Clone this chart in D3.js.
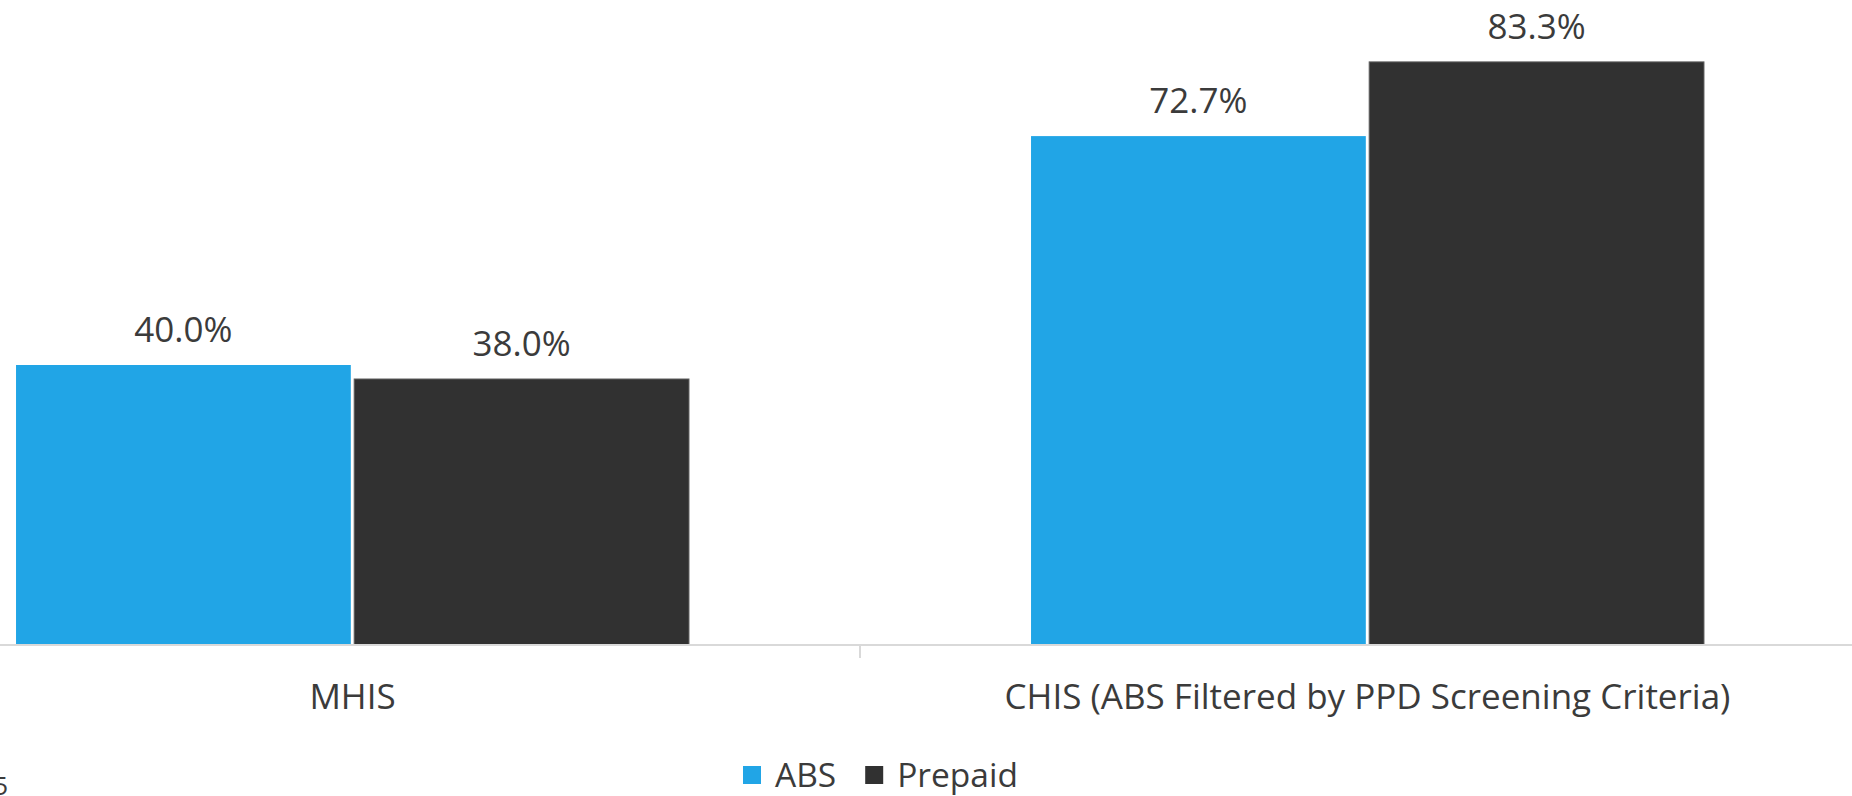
<!DOCTYPE html>
<html>
<head>
<meta charset="utf-8">
<script src="https://cdn.jsdelivr.net/npm/d3@7"></script>
<style>
  html, body { margin: 0; padding: 0; background: #ffffff; overflow: hidden; }
  svg { display: block; font-family: "Open Sans", "Noto Sans", sans-serif; }
</style>
</head>
<body>
<svg id="chart" width="1852" height="796"></svg>
<script>
// Survey comparison: share of respondents by sampling frame
const categories = ["MHIS", "CHIS (ABS Filtered by PPD Screening Criteria)"];
const seriesNames = ["ABS", "Prepaid"];
const absValues = [0.400, 0.727];
const prepaidValues = [0.380, 0.833];
const seriesColors = ["#21a5e6", "#313131"];

const W = 1852, H = 796;
const svg = d3.select("#chart");

// Plot area extends past the visible frame on both sides
const plot = { left: -155, right: 1875, top: 15, bottom: 645 };

const x0 = d3.scaleBand().domain(categories).range([plot.left, plot.right]).padding(0);
const groupW = x0.bandwidth() * 0.663;
const x1 = d3.scaleBand().domain(seriesNames).range([0, groupW]).paddingInner(0.01);
const y = d3.scaleLinear().domain([0, 0.9]).range([plot.bottom, plot.top]);

const rows = categories.map((c, i) => ({
  category: c,
  values: [
    { series: "ABS", value: absValues[i] },
    { series: "Prepaid", value: prepaidValues[i] }
  ]
}));
const color = d3.scaleOrdinal().domain(seriesNames).range(seriesColors);
const fmt = d3.format(".1%");

// Bars
const groups = svg.append("g").selectAll("g")
  .data(rows).join("g")
  .attr("transform", d => `translate(${x0(d.category) + (x0.bandwidth() - groupW) / 2},0)`);

groups.selectAll("rect")
  .data(d => d.values).join("rect")
  .attr("x", d => x1(d.series))
  .attr("y", d => y(d.value))
  .attr("width", x1.bandwidth())
  .attr("height", d => y(0) - y(d.value))
  .attr("fill", d => color(d.series))
  .attr("stroke", d => d.series === "Prepaid" ? "#5e5e5e" : "none")
  .attr("stroke-width", 1);

// Value labels
groups.selectAll("text")
  .data(d => d.values).join("text")
  .attr("x", d => x1(d.series) + x1.bandwidth() / 2)
  .attr("y", d => y(d.value) - 23)
  .attr("text-anchor", "middle")
  .attr("font-size", 35)
  .attr("fill", "#3b3b3b")
  .text(d => fmt(d.value));

// Category axis
const xAxis = svg.append("g").attr("transform", `translate(0,${plot.bottom})`)
  .call(d3.axisBottom(x0).tickSize(0).tickPadding(0));
xAxis.select(".domain").attr("stroke", "#d9d9d9").attr("stroke-width", 2)
  .attr("d", `M${plot.left},0H${plot.right}`);
xAxis.selectAll(".tick text")
  .attr("y", 64)
  .attr("dy", 0)
  .attr("font-size", 35)
  .attr("font-family", "\"Open Sans\", \"Noto Sans\", sans-serif")
  .attr("fill", "#3b3b3b");
xAxis.selectAll(".tick line").remove();

// Separator ticks between categories
const bounds = categories.slice(1).map(c => x0(c));
xAxis.selectAll("line.sep")
  .data(bounds).join("line")
  .attr("class", "sep")
  .attr("x1", d => d).attr("x2", d => d)
  .attr("y1", 0).attr("y2", 13)
  .attr("stroke", "#d9d9d9").attr("stroke-width", 2);

// Legend
const legend = svg.append("g").attr("transform", "translate(743,0)");
let cursor = 0;
seriesNames.forEach((name, i) => {
  const item = legend.append("g").attr("transform", `translate(${cursor},0)`);
  item.append("rect")
    .attr("x", 0).attr("y", 766)
    .attr("width", 18).attr("height", 18)
    .attr("fill", seriesColors[i]);
  const t = item.append("text")
    .attr("x", 32).attr("y", 787)
    .attr("font-size", 33.5)
    .attr("fill", "#3b3b3b")
    .text(name);
  cursor += 32 + t.node().getComputedTextLength() + 29;
});

// Page number fragment at the lower-left edge
svg.append("text")
  .attr("x", 8).attr("y", 795)
  .attr("text-anchor", "end")
  .attr("font-size", 26)
  .attr("fill", "#3b3b3b")
  .text("5");
</script>
</body>
</html>
